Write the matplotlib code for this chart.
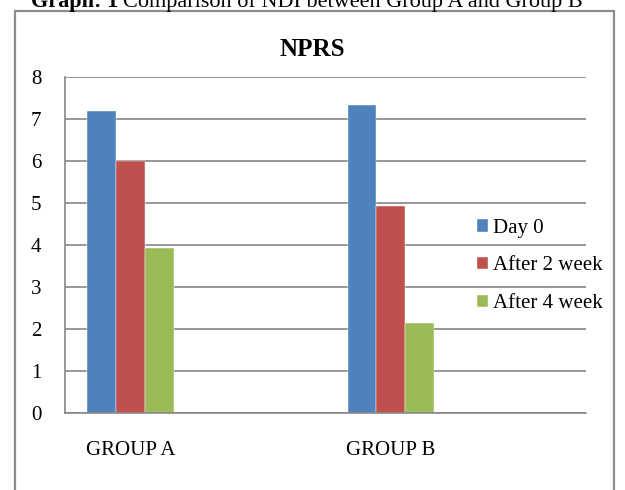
import matplotlib
matplotlib.use("Agg")
import matplotlib.pyplot as plt
from matplotlib.patches import Rectangle
import numpy as np

plt.rcParams['font.family'] = ['Liberation Serif', 'DejaVu Serif']

groups = ['GROUP A', 'GROUP B']
series = ['Day 0', 'After 2 week', 'After 4 week']
day0 = [7.2, 7.33]
week2 = [6.0, 4.93]
week4 = [3.93, 2.14]
colors = ['#4F81BD', '#C0504D', '#9BBB59']

fig = plt.figure(figsize=(6.25, 4.9), dpi=100)
ax = fig.add_axes([65 / 625, 1 - 413 / 490, 521 / 625, 336 / 490])

w = 0.111
x = np.arange(len(groups))
offsets = [0.14, 0.251, 0.362]
for vals, off, col, lab in zip([day0, week2, week4], offsets, colors, series):
    ax.bar(x + off, vals, width=w, color=col, label=lab, zorder=3,
           edgecolor='white', linewidth=0.3)

ax.set_xlim(0, 2)
ax.set_ylim(0, 8)
ax.set_yticks(range(0, 9))
ax.set_xticks(x + 0.251)
ax.set_xticklabels(groups)
ax.tick_params(axis='y', length=0, pad=17, labelsize=15)
ax.tick_params(axis='x', length=0, pad=20, labelsize=15)
ax.grid(axis='y', color='#868686', linewidth=1.2, zorder=0)
for s in ['top', 'right']:
    ax.spines[s].set_visible(False)
for s in ['left', 'bottom']:
    ax.spines[s].set_color('#868686')
    ax.spines[s].set_linewidth(1.2)
ax.spines['bottom'].set_zorder(4)

ax.legend(loc='center left', bbox_to_anchor=(477 / 625, 1 - 266 / 490),
          bbox_transform=fig.transFigure, frameon=False, fontsize=15,
          handlelength=0.55, handleheight=0.55, handletextpad=0.2,
          labelspacing=0.9, borderpad=0, borderaxespad=0)

fig.text(0.5, 1 - 56 / 490, 'NPRS', ha='center', va='baseline',
         fontsize=18, fontweight='bold')

fig.text(118 / 625, 1 - 7 / 490, 'Graph: 1', ha='right', va='baseline',
         fontsize=16, fontweight='bold')
fig.text(123 / 625, 1 - 7 / 490, 'Comparison of NDI between Group A and Group B',
         ha='left', va='baseline', fontsize=16)

fig.patches.append(Rectangle((15 / 625, -0.05), 599 / 625, 1.05 - 11 / 490,
                             transform=fig.transFigure, fill=False,
                             edgecolor='#8c8c8c', linewidth=1.6))

fig.savefig('out.png', dpi=100)
